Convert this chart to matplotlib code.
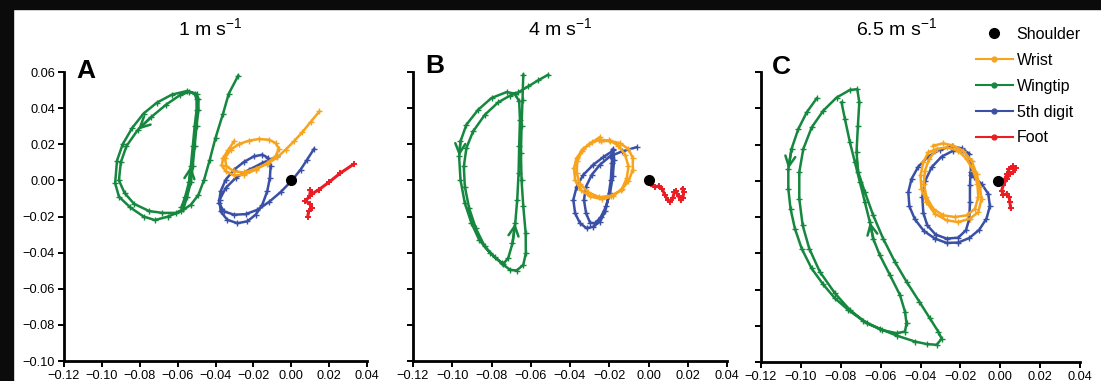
import matplotlib
matplotlib.use("Agg")
import matplotlib.pyplot as plt
from matplotlib.lines import Line2D
from matplotlib.patches import Rectangle
from matplotlib.ticker import MultipleLocator, FuncFormatter

plt.rcParams["font.family"] = ["Liberation Sans", "DejaVu Sans"]
plt.rcParams["mathtext.fontset"] = "custom"
plt.rcParams["mathtext.rm"] = "Liberation Sans"
plt.rcParams["mathtext.it"] = "Liberation Sans:italic"
plt.rcParams["mathtext.bf"] = "Liberation Sans:bold"

# ---- data (metres, relative to shoulder) ----
speeds = ["1", "4", "6.5"]
panel_letters = ["A", "B", "C"]
series_names = ["Shoulder", "Wrist", "Wingtip", "5th digit", "Foot"]

shoulder_x = [0.0, 0.0, -0.001]
shoulder_y = [0.0, 0.0, 0.0]

# panel A, 1 m/s
wingtip_a_x = [-0.058, -0.056, -0.054, -0.053, -0.052, -0.051, -0.050, -0.050, -0.051, -0.054,
               -0.059, -0.066, -0.074, -0.081, -0.087, -0.090, -0.091, -0.088, -0.083, -0.075,
               -0.068, -0.061,
               -0.057, -0.055, -0.053, -0.052, -0.051, -0.050, -0.049, -0.049, -0.050, -0.055,
               -0.063, -0.071, -0.078, -0.084, -0.089, -0.092, -0.093, -0.091, -0.085, -0.078,
               -0.072, -0.065, -0.058, -0.053, -0.049, -0.046, -0.043, -0.040, -0.036, -0.033,
               -0.028]
wingtip_a_y = [-0.015, -0.009, -0.001, 0.008, 0.019, 0.030, 0.039, 0.045, 0.048, 0.049,
               0.047, 0.042, 0.035, 0.028, 0.019, 0.010, 0.000, -0.007, -0.013, -0.017,
               -0.018, -0.018,
               -0.016, -0.009, -0.001, 0.008, 0.019, 0.030, 0.039, 0.045, 0.048, 0.0495,
               0.0475, 0.043, 0.037, 0.029, 0.020, 0.011, -0.0015, -0.009, -0.015, -0.020,
               -0.022, -0.020, -0.017, -0.0135, -0.008, 0.0004, 0.0115, 0.0235, 0.037, 0.048,
               0.058]
wrist_a_x = [-0.0302, -0.0332, -0.0360, -0.0367, -0.0346, -0.0302, -0.0250, -0.0188, -0.0127,
             -0.0083, -0.0065, -0.0083, -0.0118, -0.0171, -0.0223, -0.0276, -0.0320, -0.0350,
             -0.0343, -0.0302, -0.0250, -0.0188, -0.0127, -0.0074, -0.0030, 0.0014, 0.0058,
             0.0102, 0.0149]
wrist_a_y = [0.0216, 0.0170, 0.0124, 0.0083, 0.0050, 0.0028, 0.0031, 0.0059, 0.0096,
             0.0133, 0.0176, 0.0207, 0.0225, 0.0229, 0.0220, 0.0201, 0.0170, 0.0124,
             0.0078, 0.0050, 0.0044, 0.0065, 0.0091, 0.0127, 0.0170, 0.0216, 0.0266,
             0.0323, 0.0382]
digit5_a_x = [-0.0074, -0.0153, -0.0223, -0.0294, -0.0346, -0.0378, -0.0373, -0.0338, -0.0285,
              -0.0232, -0.0188, -0.0153, -0.0127, -0.0113, -0.0109, -0.0121, -0.0153, -0.0197,
              -0.0250, -0.0302, -0.0346, -0.0373, -0.0382, -0.0355, -0.0302, -0.0241, -0.0179,
              -0.0118, -0.0056, 0.0002, 0.0049, 0.0084, 0.0120]
digit5_a_y = [0.0133, 0.0096, 0.0059, 0.0013, -0.0042, -0.0107, -0.0172, -0.0218, -0.0237,
              -0.0227, -0.0190, -0.0135, -0.0061, 0.0013, 0.0078, 0.0124, 0.0142, 0.0133,
              0.0102, 0.0059, 0.0004, -0.0061, -0.0126, -0.0172, -0.0190, -0.0187, -0.0163,
              -0.0120, -0.0065, -0.0002, 0.0059, 0.0115, 0.0174]
foot_a_x = [0.0330, 0.0259, 0.0198, 0.0145, 0.0110, 0.0101, 0.0097, 0.0075, 0.0097, 0.0110,
            0.0092, 0.0087]
foot_a_y = [0.0090, 0.0040, -0.0011, -0.0052, -0.0074, -0.0056, -0.0089, -0.0113, -0.0130,
            -0.0154, -0.0172, -0.0200]

# panel B, 4 m/s
wingtip_b_x = [-0.0511, -0.0562, -0.0613, -0.0664, -0.0706, -0.0766, -0.0834, -0.0894, -0.0928,
               -0.0941, -0.0936, -0.0914, -0.0880, -0.0834, -0.0783, -0.0740, -0.0715, -0.0693,
               -0.0679, -0.0669, -0.0662, -0.0659, -0.0655, -0.0659, -0.0681, -0.0723, -0.0800,
               -0.0868, -0.0928, -0.0958, -0.0965, -0.0958, -0.0936, -0.0902, -0.0863, -0.0809,
               -0.0749, -0.0706, -0.0672, -0.0638, -0.0625, -0.0626, -0.0638, -0.0647, -0.0650,
               -0.0647, -0.0642, -0.0638]
wingtip_b_y = [0.0585, 0.0554, 0.0520, 0.0487, 0.0469, 0.0432, 0.0363, 0.0271, 0.0179,
               0.0077, -0.0034, -0.0154, -0.0265, -0.0366, -0.0426, -0.0462, -0.0431, -0.0348,
               -0.0237, -0.0108, 0.0040, 0.0188, 0.0336, 0.0437, 0.0480, 0.0489, 0.0456,
               0.0391, 0.0308, 0.0216, 0.0133, 0.0003, -0.0126, -0.0237, -0.0329, -0.0400,
               -0.0459, -0.0495, -0.0499, -0.0468, -0.0403, -0.0292, -0.0144, 0.0003, 0.0151,
               0.0299, 0.0447, 0.0585]
wrist_b_x = [-0.0247, -0.0289, -0.0335, -0.0366, -0.0380, -0.0374, -0.0346, -0.0298, -0.0238,
             -0.0182, -0.0136, -0.0111, -0.0102, -0.0119, -0.0153, -0.0199, -0.0250, -0.0301,
             -0.0340, -0.0363, -0.0366, -0.0349, -0.0306, -0.0250, -0.0192, -0.0141, -0.0102,
             -0.0080, -0.0080, -0.0102, -0.0145, -0.0196, -0.0243]
wrist_b_y = [0.0240, 0.0210, 0.0173, 0.0123, 0.0068, 0.0003, -0.0052, -0.0089, -0.0104,
             -0.0089, -0.0048, 0.0012, 0.0077, 0.0142, 0.0192, 0.0221, 0.0225, 0.0203,
             0.0160, 0.0105, 0.0040, -0.0019, -0.0067, -0.0093, -0.0085, -0.0056, -0.0006,
             0.0059, 0.0124, 0.0173, 0.0206, 0.0219, 0.0216]
digit5_b_x = [-0.0182, -0.0187, -0.0192, -0.0204, -0.0221, -0.0247, -0.0281, -0.0315, -0.0349,
              -0.0374, -0.0383, -0.0366, -0.0332, -0.0281, -0.0230, -0.0179, -0.0175, -0.0182,
              -0.0196, -0.0216, -0.0243, -0.0272, -0.0298, -0.0318, -0.0329, -0.0318, -0.0289,
              -0.0247, -0.0196, -0.0136, -0.0060]
digit5_b_y = [0.0173, 0.0096, 0.0003, -0.0089, -0.0172, -0.0228, -0.0256, -0.0265, -0.0237,
              -0.0182, -0.0108, -0.0034, 0.0031, 0.0087, 0.0129, 0.0166, 0.0114, 0.0022,
              -0.0070, -0.0144, -0.0203, -0.0237, -0.0234, -0.0182, -0.0108, -0.0034, 0.0031,
              0.0087, 0.0133, 0.0160, 0.0184]
foot_b_x = [0.0012, 0.0034, 0.0053, 0.0070, 0.0083, 0.0097, 0.0111, 0.0124, 0.0131, 0.0141,
            0.0153, 0.0165, 0.0175, 0.0179, 0.0174]
foot_b_y = [-0.0021, -0.0037, -0.0030, -0.0048, -0.0080, -0.0108, -0.0117, -0.0098, -0.0067,
            -0.0061, -0.0089, -0.0111, -0.0098, -0.0067, -0.0045]

# panel C, 6.5 m/s
wingtip_c_x = [-0.0921, -0.0971, -0.1013, -0.1047, -0.1063, -0.1063, -0.1052, -0.1030, -0.0996,
               -0.0946, -0.0888, -0.0829, -0.0762, -0.0687, -0.0604, -0.0520, -0.0428, -0.0369,
               -0.0319, -0.0294, -0.0311, -0.0353, -0.0406, -0.0470, -0.0528, -0.0587, -0.0637,
               -0.0679, -0.0712, -0.0721, -0.0714, -0.0707, -0.0717, -0.0754, -0.0821, -0.0888,
               -0.0946, -0.0988, -0.1008, -0.1008, -0.0991, -0.0958, -0.0905, -0.0829, -0.0754,
               -0.0670, -0.0595, -0.0520, -0.0478, -0.0470, -0.0478, -0.0503, -0.0553, -0.0604,
               -0.0637, -0.0654, -0.0679, -0.0704, -0.0729, -0.0754, -0.0779, -0.0796]
wingtip_c_y = [0.0454, 0.0377, 0.0285, 0.0175, 0.0065, -0.0044, -0.0154, -0.0264, -0.0374,
               -0.0484, -0.0572, -0.0649, -0.0713, -0.0773, -0.0817, -0.0854, -0.0887, -0.0901,
               -0.0905, -0.0872, -0.0832, -0.0759, -0.0667, -0.0557, -0.0448, -0.0320, -0.0191,
               -0.0063, 0.0047, 0.0157, 0.0303, 0.0432, 0.0505, 0.0501, 0.0459, 0.0386,
               0.0294, 0.0175, 0.0047, -0.0099, -0.0246, -0.0374, -0.0502, -0.0621, -0.0713,
               -0.0786, -0.0823, -0.0841, -0.0832, -0.0786, -0.0722, -0.0630, -0.0521, -0.0411,
               -0.0320, -0.0228, -0.0118, -0.0008, 0.0102, 0.0212, 0.0340, 0.0432]
wrist_c_x = [-0.0336, -0.0286, -0.0236, -0.0186, -0.0144, -0.0119, -0.0102, -0.0094, -0.0110,
             -0.0152, -0.0211, -0.0269, -0.0328, -0.0370, -0.0395, -0.0400, -0.0386, -0.0361,
             -0.0319, -0.0269, -0.0211, -0.0169, -0.0135, -0.0115, -0.0110, -0.0127, -0.0169,
             -0.0227, -0.0286, -0.0336, -0.0370, -0.0383, -0.0378, -0.0356, -0.0328]
wrist_c_y = [0.0194, 0.0206, 0.0194, 0.0166, 0.0111, 0.0038, -0.0035, -0.0099, -0.0173,
             -0.0209, -0.0228, -0.0218, -0.0182, -0.0118, -0.0045, 0.0029, 0.0102, 0.0157,
             0.0175, 0.0184, 0.0166, 0.0120, 0.0056, -0.0017, -0.0090, -0.0155, -0.0191,
             -0.0200, -0.0191, -0.0155, -0.0090, -0.0017, 0.0056, 0.0120, 0.0162]
digit5_c_x = [-0.0155, -0.0194, -0.0244, -0.0303, -0.0361, -0.0411, -0.0445, -0.0461, -0.0456,
              -0.0428, -0.0383, -0.0328, -0.0269, -0.0211, -0.0155, -0.0105, -0.0069, -0.0052,
              -0.0060, -0.0094, -0.0132, -0.0149, -0.0152, -0.0152, -0.0155, -0.0172, -0.0211,
              -0.0269, -0.0324, -0.0366, -0.0386, -0.0391, -0.0378, -0.0344, -0.0294, -0.0236,
              -0.0177, -0.0149, -0.0147]
digit5_c_y = [0.0148, 0.0179, 0.0190, 0.0172, 0.0133, 0.0078, 0.0010, -0.0062, -0.0140,
              -0.0213, -0.0277, -0.0319, -0.0343, -0.0341, -0.0316, -0.0270, -0.0209, -0.0140,
              -0.0072, -0.0017, 0.0020, 0.0047, -0.0026, -0.0118, -0.0209, -0.0273, -0.0314,
              -0.0319, -0.0297, -0.0246, -0.0176, -0.0090, -0.0004, 0.0075, 0.0133, 0.0166,
              0.0161, 0.0111, 0.0029]
foot_c_x = [0.0007, 0.0023, 0.0035, 0.0045, 0.0062, 0.0077, 0.0065, 0.0048, 0.0032, 0.0015,
            0.0007, 0.0015, 0.0035, 0.0045, 0.0048, 0.0052]
foot_c_y = [-0.0004, 0.0010, 0.0038, 0.0065, 0.0080, 0.0069, 0.0047, 0.0038, 0.0010, -0.0026,
            -0.0054, -0.0077, -0.0072, -0.0090, -0.0118, -0.0149]

# direction arrows: index of the wingtip sample the arrowhead sits on
arrow_idx = [[3, 13], [18, 30], [4, 55]]

# ---- style ----
C_WRIST = "#F7A31C"
C_WING = "#16873F"
C_DIGIT = "#3A50A6"
C_FOOT = "#EC1C24"

panels = [
    (wingtip_a_x, wingtip_a_y, wrist_a_x, wrist_a_y, digit5_a_x, digit5_a_y, foot_a_x, foot_a_y),
    (wingtip_b_x, wingtip_b_y, wrist_b_x, wrist_b_y, digit5_b_x, digit5_b_y, foot_b_x, foot_b_y),
    (wingtip_c_x, wingtip_c_y, wrist_c_x, wrist_c_y, digit5_c_x, digit5_c_y, foot_c_x, foot_c_y),
]

# axes boxes in pixels: left, right, top, bottom
W, H = 1101, 381
boxes = [(64, 367, 72, 361), (413, 727, 72, 361), (761, 1080, 72, 362)]
title_x = [210, 560, 896]
letter_pos = [(0.040, 0.979), (0.038, 0.996), (0.034, 0.993)]


def tick_fmt(v, pos):
    v = round(v, 2)
    if abs(v) < 1e-9:
        v = 0.0
    return f"{v:.2f}".replace("-", "\u2212")


fig = plt.figure(figsize=(W / 100, H / 100), dpi=100)

for k, (wx, wy, rx, ry, dx, dy, fx, fy) in enumerate(panels):
    l, r, t, b = boxes[k]
    ax = fig.add_axes([l / W, (H - b) / H, (r - l) / W, (b - t) / H])

    kw = dict(lw=1.8, marker="+", ms=4, mew=1.0)
    ax.plot(wx, wy, color=C_WING, **kw)
    ax.plot(dx, dy, color=C_DIGIT, **kw)
    ax.plot(rx, ry, color=C_WRIST, **kw)
    ax.plot(fx, fy, color=C_FOOT, lw=2.2, marker="+", ms=4.5, mew=1.4)
    ax.plot(shoulder_x[k], shoulder_y[k], "o", color="black", ms=7, zorder=5)

    for i in arrow_idx[k]:
        ax.annotate("", xy=(wx[i], wy[i]), xytext=(wx[i - 1], wy[i - 1]),
                    arrowprops=dict(arrowstyle="->", color=C_WING, lw=1.8,
                                    mutation_scale=18, shrinkA=0, shrinkB=0))

    ax.set_xlim(-0.12, 0.04)
    ax.set_ylim(-0.10, 0.06)
    ax.xaxis.set_major_locator(MultipleLocator(0.02))
    ax.yaxis.set_major_locator(MultipleLocator(0.02))
    ax.xaxis.set_major_formatter(FuncFormatter(tick_fmt))
    ax.yaxis.set_major_formatter(FuncFormatter(tick_fmt))
    for s in ["top", "right"]:
        ax.spines[s].set_visible(False)
    for s in ["left", "bottom"]:
        ax.spines[s].set_linewidth(2.0)
    ax.tick_params(direction="out", length=4.5, width=1.4, labelsize=9.2, pad=2)
    if k > 0:
        ax.tick_params(axis="y", labelleft=False)

    ax.text(letter_pos[k][0], letter_pos[k][1], panel_letters[k], transform=ax.transAxes,
            fontsize=19, fontweight="bold", va="baseline", ha="left")
    fig.text(title_x[k] / W, 1 - 28 / H, speeds[k] + r" m s$^{\mathregular{-1}}$",
             fontsize=14, ha="center", va="center")

handles = [
    Line2D([], [], color="black", marker="o", ms=7, ls="none"),
    Line2D([], [], color=C_WRIST, lw=1.5, marker="o", ms=3.5),
    Line2D([], [], color=C_WING, lw=1.5, marker="o", ms=3.5),
    Line2D([], [], color=C_DIGIT, lw=1.5, marker="o", ms=3.5),
    Line2D([], [], color=C_FOOT, lw=1.5, marker="o", ms=3.5),
]
fig.legend(handles, series_names, loc="upper left", bbox_to_anchor=(976 / W, 1 - 27 / H),
           frameon=False, fontsize=11.5, handlelength=2.3, handletextpad=0.25,
           labelspacing=0.68, borderaxespad=0, borderpad=0)

# dark frame left/top
fig.patches.append(Rectangle((0, 0), 13 / W, 1, transform=fig.transFigure,
                             color="#0b0b0b", zorder=10))
fig.patches.append(Rectangle((0, 1 - 9 / H), 1, 9 / H, transform=fig.transFigure,
                             color="#0b0b0b", zorder=10))

fig.savefig("out.png", dpi=100)
